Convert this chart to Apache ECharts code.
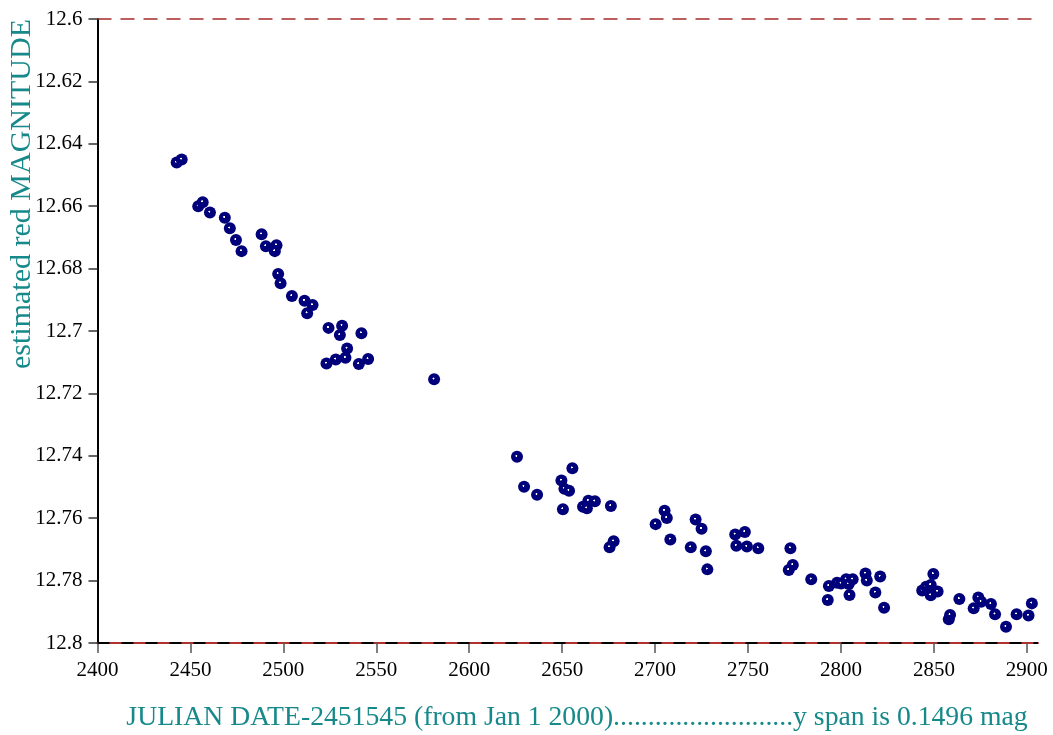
<!DOCTYPE html>
<html>
<head>
<meta charset="utf-8">
<title>estimated red magnitude</title>
<script src="https://cdn.jsdelivr.net/npm/echarts@6/dist/echarts.min.js"></script>
<style>
  html, body { margin: 0; padding: 0; background: #fff; }
  #chart_con { width: 1053px; height: 735px; }
</style>
</head>
<body>
<div id="chart_con"></div>
<script>
// julian date - 2451545
var jdDays = [
  2442.6, 2445.3, 2454.2, 2456.6, 2460.5, 2468.5, 2471.2, 2474.5, 2477.5, 2488.3,
  2490.6, 2496.3, 2495.4, 2497.2, 2498.5, 2504.6, 2511.4, 2515.7, 2512.8, 2524.3,
  2531.6, 2530.4, 2542.0, 2534.3, 2533.4, 2528.2, 2523.2, 2540.6, 2545.6, 2581.1,
  2625.7, 2629.5, 2636.5, 2649.6, 2655.5, 2651.2, 2653.7, 2650.4, 2661.2, 2663.3,
  2664.1, 2667.6, 2676.2, 2677.7, 2675.5, 2700.3, 2705.1, 2706.3, 2708.2, 2719.2,
  2721.8, 2725.0, 2727.3, 2728.1, 2743.1, 2748.3, 2743.7, 2749.4, 2755.5, 2772.8,
  2774.1, 2771.9, 2784.0, 2793.5, 2792.9, 2797.9, 2800.1, 2802.8, 2804.2, 2806.3,
  2804.6, 2813.2, 2813.9, 2818.5, 2821.1, 2823.2, 2843.7, 2845.8, 2848.3, 2848.3,
  2849.7, 2852.0, 2858.0, 2858.7, 2863.7, 2871.4, 2873.9, 2875.4, 2880.7, 2882.9,
  2888.8, 2894.5, 2900.9, 2902.7
];
// estimated red magnitude
var redMag = [
  12.646, 12.645, 12.660, 12.6587, 12.662, 12.6637, 12.6671, 12.6708, 12.6744, 12.669,
  12.6728, 12.6725, 12.6744, 12.6817, 12.6847, 12.6888, 12.6903, 12.6917, 12.6943, 12.6990,
  12.6983, 12.7013, 12.7007, 12.7056, 12.7086, 12.7091, 12.7104, 12.7106, 12.7090, 12.7155,
  12.7403, 12.7499, 12.7525, 12.7479, 12.7440, 12.7506, 12.7512, 12.7571, 12.7563, 12.7568,
  12.7544, 12.7546, 12.7561, 12.7674, 12.7693, 12.7619, 12.7576, 12.7599, 12.7668, 12.7693,
  12.7604, 12.7634, 12.7706, 12.7764, 12.7652, 12.7644, 12.7688, 12.7691, 12.7696, 12.7696,
  12.7750, 12.7766, 12.7796, 12.7817, 12.7862, 12.7807, 12.7809, 12.7796, 12.7811, 12.7796,
  12.7846, 12.7777, 12.7800, 12.7838, 12.7787, 12.7887, 12.7832, 12.7820, 12.7814, 12.7847,
  12.7779, 12.7835, 12.7924, 12.7910, 12.7859, 12.7889, 12.7854, 12.7868, 12.7875, 12.7908,
  12.7948, 12.7908, 12.7912, 12.7873
];
var xTicks = [2400, 2450, 2500, 2550, 2600, 2650, 2700, 2750, 2800, 2850, 2900];
var yTicks = [12.6, 12.62, 12.64, 12.66, 12.68, 12.7, 12.72, 12.74, 12.76, 12.78, 12.8];

var xTitle = "JULIAN DATE-2451545 (from Jan 1 2000)..........................y span is 0.1496 mag";
var yTitle = "estimated red MAGNITUDE";

var chart = echarts.init(document.getElementById("chart_con"));

var points = [];
for (var i = 0; i < jdDays.length; i++) {
  points.push([jdDays[i], redMag[i]]);
}

var serifFont = "'Liberation Serif', 'DejaVu Serif', serif";
var teal = "#17898a";
var navy = "#00007a";

var option = {
  animation: false,
  backgroundColor: "#fff",
  grid: { left: 97.5, right: 15, top: 19, bottom: 92 },
  xAxis: {
    type: "value",
    min: 2400,
    max: 2906,
    interval: 50,
    splitLine: { show: false },
    axisLine: { show: true, onZero: false, lineStyle: { color: "#b03030", width: 2 } },
    axisTick: { show: true, length: 10, customValues: xTicks, lineStyle: { color: "#555", width: 1.5 } },
    axisLabel: {
      customValues: xTicks,
      margin: 17,
      color: "#000",
      fontFamily: serifFont,
      fontSize: 21,
      formatter: function(v) {
        return String(v);
      }
    }
  },
  yAxis: {
    type: "value",
    inverse: true,
    min: 12.6,
    max: 12.8,
    interval: 0.02,
    splitLine: { show: false },
    axisLine: { show: true, onZero: false, lineStyle: { color: "#000", width: 2 } },
    axisTick: { show: true, length: 9, customValues: yTicks, lineStyle: { color: "#333", width: 1.5 } },
    axisLabel: {
      customValues: yTicks,
      margin: 15,
      color: "#000",
      fontFamily: serifFont,
      fontSize: 21,
      formatter: function(v) {
        return String(+v.toFixed(2));
      }
    }
  },
  graphic: [
    {
      type: "text",
      x: 577,
      y: 718,
      style: {
        text: xTitle,
        fill: teal,
        font: "27.7px " + serifFont,
        align: "center",
        verticalAlign: "middle"
      }
    },
    {
      type: "text",
      x: 22,
      y: 194,
      rotation: Math.PI / 2,
      style: {
        text: yTitle,
        fill: teal,
        font: "30px " + serifFont,
        align: "center",
        verticalAlign: "middle"
      }
    }
  ],
  series: [
    {
      type: "scatter",
      symbol: "circle",
      symbolSize: 12,
      data: points,
      itemStyle: {
        opacity: 1,
        color: new echarts.graphic.RadialGradient(0.45, 0.43, 0.5, [
          { offset: 0, color: "#ffffff" },
          { offset: 0.12, color: "#ffffff" },
          { offset: 0.2, color: navy },
          { offset: 1, color: navy }
        ])
      },
      markLine: {
        silent: true,
        symbol: ["none", "none"],
        label: { show: false },
        data: [
          { yAxis: 12.6, lineStyle: { color: "#a52a2a", type: [14, 9], width: 1.5 } },
          { yAxis: 12.8, lineStyle: { color: "#000", type: [12, 12], width: 2 } }
        ]
      }
    }
  ]
};

chart.setOption(option);
window.addEventListener("resize", function() {
  chart.resize();
});
</script>
</body>
</html>
